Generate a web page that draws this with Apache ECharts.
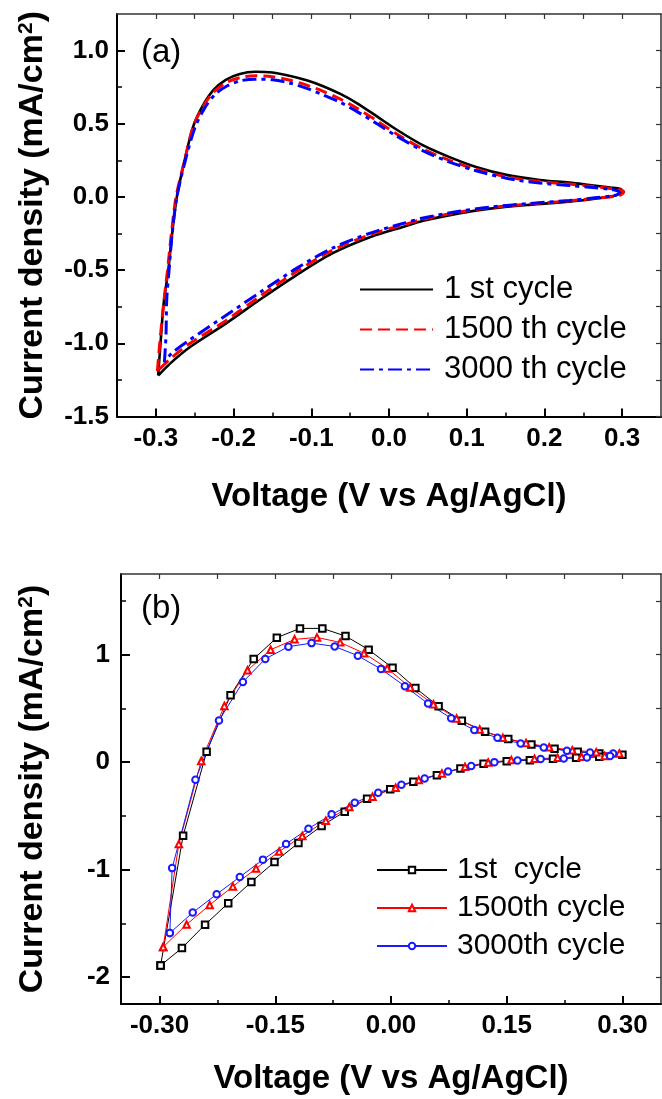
<!DOCTYPE html>
<html>
<head>
<meta charset="utf-8">
<title>Cyclic voltammetry stability</title>
<script src="https://cdn.jsdelivr.net/npm/echarts@6/dist/echarts.min.js"></script>
<style>
  html, body { margin: 0; padding: 0; background: #fff; }
  #chart { width: 662px; height: 1099px; }
</style>
</head>
<body>
<div id="chart"></div>
<script>
// ---- Panel (a): CV loops [voltage V, current density mA/cm2], anodic sweep then cathodic sweep ----
const cycleA1 = [
  [-0.297, -1.22], [-0.294, -1.00], [-0.290, -0.73], [-0.284, -0.50], [-0.279, -0.25],
  [-0.273, 0.00], [-0.263, 0.25], [-0.252, 0.48], [-0.240, 0.62], [-0.226, 0.73],
  [-0.210, 0.80], [-0.192, 0.84], [-0.172, 0.855], [-0.150, 0.850], [-0.127, 0.826],
  [-0.105, 0.795], [-0.084, 0.755], [-0.062, 0.702], [-0.041, 0.640], [-0.016, 0.552],
  [0.010, 0.459], [0.044, 0.352], [0.078, 0.272], [0.112, 0.205], [0.151, 0.151],
  [0.194, 0.116], [0.232, 0.098], [0.258, 0.082], [0.285, 0.065], [0.298, 0.055],
  [0.300, 0.040],
  [0.290, 0.008], [0.265, -0.012], [0.232, -0.032], [0.180, -0.054], [0.130, -0.080],
  [0.090, -0.112], [0.044, -0.163], [0.019, -0.203], [-0.023, -0.272], [-0.073, -0.386],
  [-0.119, -0.534], [-0.164, -0.694], [-0.210, -0.865], [-0.256, -1.025], [-0.280, -1.13],
  [-0.297, -1.22]
];
const cycleA1500 = [
  [-0.298, -1.19], [-0.295, -1.00], [-0.290, -0.73], [-0.285, -0.50], [-0.280, -0.25],
  [-0.274, 0.00], [-0.263, 0.25], [-0.252, 0.48], [-0.240, 0.61], [-0.226, 0.715],
  [-0.210, 0.78], [-0.192, 0.815], [-0.172, 0.828], [-0.150, 0.822], [-0.127, 0.797],
  [-0.105, 0.762], [-0.084, 0.720], [-0.062, 0.667], [-0.041, 0.605], [-0.016, 0.522],
  [0.010, 0.430], [0.044, 0.327], [0.078, 0.250], [0.112, 0.189], [0.151, 0.138],
  [0.194, 0.105], [0.232, 0.088], [0.258, 0.074], [0.285, 0.058], [0.298, 0.048],
  [0.302, 0.035],
  [0.295, 0.008], [0.265, -0.008], [0.232, -0.027], [0.180, -0.048], [0.130, -0.073],
  [0.090, -0.103], [0.044, -0.152], [0.019, -0.190], [-0.023, -0.255], [-0.073, -0.365],
  [-0.119, -0.510], [-0.164, -0.672], [-0.210, -0.845], [-0.256, -1.000], [-0.280, -1.10],
  [-0.298, -1.19]
];
const cycleA3000 = [
  [-0.289, -1.13], [-0.287, -0.95], [-0.286, -0.70], [-0.283, -0.50], [-0.279, -0.25],
  [-0.273, 0.00], [-0.262, 0.25], [-0.250, 0.47], [-0.238, 0.60], [-0.224, 0.70],
  [-0.208, 0.76], [-0.190, 0.795], [-0.172, 0.805], [-0.150, 0.800], [-0.127, 0.777],
  [-0.105, 0.740], [-0.084, 0.695], [-0.062, 0.644], [-0.041, 0.583], [-0.016, 0.502],
  [0.010, 0.415], [0.044, 0.315], [0.078, 0.238], [0.112, 0.179], [0.151, 0.128],
  [0.194, 0.095], [0.232, 0.078], [0.258, 0.066], [0.285, 0.052], [0.295, 0.040],
  [0.296, 0.025],
  [0.288, 0.008], [0.265, -0.006], [0.232, -0.024], [0.180, -0.045], [0.130, -0.069],
  [0.090, -0.098], [0.044, -0.144], [0.019, -0.180], [-0.023, -0.245], [-0.073, -0.350],
  [-0.119, -0.488], [-0.164, -0.645], [-0.210, -0.810], [-0.256, -0.975], [-0.280, -1.07],
  [-0.289, -1.13]
];

// ---- Panel (b): sampled CV loops with markers ----
const cycleB1 = [
  [-0.2987, -1.892], [-0.2695, -0.685], [-0.239, 0.096], [-0.208, 0.622], [-0.178, 0.960],
  [-0.148, 1.158], [-0.118, 1.244], [-0.089, 1.244], [-0.059, 1.173], [-0.029, 1.046],
  [0.002, 0.877], [0.0316, 0.690], [0.0617, 0.520], [0.0918, 0.384], [0.122, 0.282],
  [0.152, 0.214], [0.182, 0.164], [0.212, 0.124], [0.242, 0.096], [0.270, 0.081],
  [0.300, 0.068],
  [0.270, 0.050], [0.240, 0.040], [0.210, 0.031], [0.180, 0.018], [0.150, 0.009],
  [0.120, -0.016], [0.090, -0.059], [0.0595, -0.121], [0.029, -0.183], [-0.001, -0.252],
  [-0.031, -0.340], [-0.060, -0.461], [-0.090, -0.594], [-0.120, -0.752], [-0.151, -0.929],
  [-0.181, -1.114], [-0.211, -1.312], [-0.241, -1.512], [-0.271, -1.729], [-0.2987, -1.892]
];
const cycleB1500 = [
  [-0.2953, -1.720], [-0.275, -0.762], [-0.246, 0.011], [-0.216, 0.523], [-0.186, 0.854],
  [-0.156, 1.046], [-0.125, 1.142], [-0.096, 1.160], [-0.066, 1.114], [-0.035, 1.013],
  [-0.005, 0.872], [0.025, 0.694], [0.055, 0.539], [0.085, 0.406], [0.115, 0.303],
  [0.145, 0.226], [0.175, 0.179], [0.205, 0.139], [0.235, 0.111], [0.266, 0.093],
  [0.296, 0.081],
  [0.277, 0.058], [0.247, 0.050], [0.216, 0.040], [0.186, 0.031], [0.156, 0.019],
  [0.126, -0.003], [0.096, -0.044], [0.066, -0.105], [0.036, -0.167], [0.006, -0.238],
  [-0.024, -0.322], [-0.054, -0.418], [-0.0845, -0.545], [-0.115, -0.687], [-0.145, -0.832],
  [-0.175, -0.990], [-0.205, -1.157], [-0.235, -1.329], [-0.265, -1.510], [-0.2953, -1.720]
];
const cycleB3000 = [
  [-0.2867, -1.590], [-0.2837, -0.986], [-0.2535, -0.164], [-0.223, 0.387], [-0.192, 0.745],
  [-0.163, 0.960], [-0.133, 1.074], [-0.103, 1.107], [-0.073, 1.076], [-0.043, 0.990],
  [-0.013, 0.866], [0.018, 0.706], [0.048, 0.545], [0.078, 0.408], [0.108, 0.300],
  [0.138, 0.226], [0.168, 0.173], [0.198, 0.136], [0.228, 0.105], [0.258, 0.090],
  [0.288, 0.081],
  [0.284, 0.056], [0.254, 0.044], [0.224, 0.034], [0.194, 0.028], [0.164, 0.016],
  [0.134, 0.000], [0.104, -0.037], [0.074, -0.087], [0.0436, -0.152], [0.0135, -0.211],
  [-0.0166, -0.285], [-0.047, -0.378], [-0.077, -0.486], [-0.107, -0.619], [-0.136, -0.761],
  [-0.166, -0.907], [-0.196, -1.068], [-0.226, -1.229], [-0.257, -1.399], [-0.2867, -1.590]
];

// ---- Series names ----
const namesA = ['1 st cycle', '1500 th cycle', '3000 th cycle'];
const namesB = ['1st  cycle', '1500th cycle', '3000th cycle'];

// ---- Tick values ----
const xMajorA = [-0.3, -0.2, -0.1, 0.0, 0.1, 0.2, 0.3];
const xMinorA = [-0.25, -0.15, -0.05, 0.05, 0.15, 0.25];
const yMajorA = [-1.5, -1.0, -0.5, 0.0, 0.5, 1.0];
const yMinorA = [-1.25, -0.75, -0.25, 0.25, 0.75];
const xMajorB = [-0.30, -0.15, 0.00, 0.15, 0.30];
const xMinorB = [-0.225, -0.075, 0.075, 0.225];
const yMajorB = [-2, -1, 0, 1];
const yMinorB = [-1.5, -0.5, 0.5, 1.5];

const FONT = "'Liberation Sans', Arial, Helvetica, sans-serif";
const X_TITLE = 'Voltage (V vs Ag/AgCl)';
const Y_TITLE = 'Current density (mA/cm{sup|2})';

// Builds the bottom/top (or left/right) axes of one grid: labelled major ticks,
// shorter minor ticks, and the thin mirrored frame edge with inward ticks.
function makeAxes(dim, gridIndex, min, max, majors, minors, fmt, o) {
  const near = dim === 'x' ? 'bottom' : 'left';
  const far = dim === 'x' ? 'top' : 'right';
  const base = { type: 'value', gridIndex, min, max, splitLine: { show: false }, silent: true };
  const all = majors.concat(minors).sort((a, b) => a - b);
  return [
    Object.assign({}, base, {
      position: near,
      axisLine: { show: true, onZero: false, lineStyle: { color: '#000', width: 2 } },
      axisTick: { show: true, inside: true, length: o.majorLen, customValues: majors,
                  lineStyle: { color: '#000', width: 2 } },
      axisLabel: { show: true, customValues: majors, formatter: fmt, margin: o.labelMargin,
                   color: '#000', fontSize: 26, fontWeight: 'bold', fontFamily: FONT },
      name: dim === 'x' ? X_TITLE : Y_TITLE,
      nameLocation: 'middle',
      nameGap: o.nameGap,
      nameTextStyle: {
        color: '#000', fontSize: dim === 'x' ? 33 : 34, fontWeight: 'bold', fontFamily: FONT,
        rich: {
          sup: { fontSize: 21, fontWeight: 'bold', fontFamily: FONT, color: '#000',
                 verticalAlign: 'top', lineHeight: 34, padding: [0, 0, 14, 0] }
        }
      }
    }),
    Object.assign({}, base, {
      position: near,
      axisLine: { show: false, onZero: false },
      axisTick: { show: true, inside: true, length: o.minorLen, customValues: minors,
                  lineStyle: { color: '#000', width: 1.5 } },
      axisLabel: { show: false }
    }),
    Object.assign({}, base, {
      position: far,
      axisLine: { show: true, onZero: false, lineStyle: { color: '#333', width: 1.5 } },
      axisTick: { show: true, inside: true, length: 5, customValues: all,
                  lineStyle: { color: '#333', width: 1.2 } },
      axisLabel: { show: false }
    })
  ];
}

const f1 = v => v.toFixed(1);
const f2 = v => v.toFixed(2);
const f0 = v => String(Math.round(v));

const xAxes = []
  .concat(makeAxes('x', 0, -0.35, 0.35, xMajorA, xMinorA, f1, { majorLen: 8, minorLen: 4, labelMargin: 9, nameGap: 64 }))
  .concat(makeAxes('x', 1, -0.35, 0.35, xMajorB, xMinorB, f2, { majorLen: 8, minorLen: 4, labelMargin: 9, nameGap: 58 }));
const yAxes = []
  .concat(makeAxes('y', 0, -1.5, 1.25, yMajorA, yMinorA, f1, { majorLen: 8, minorLen: 5, labelMargin: 8, nameGap: 67 }))
  .concat(makeAxes('y', 1, -2.25, 1.75, yMajorB, yMinorB, f0, { majorLen: 9, minorLen: 5, labelMargin: 11, nameGap: 71 }));

function curve(name, data, color, width, dash) {
  return {
    name, type: 'line', data, xAxisIndex: 0, yAxisIndex: 0,
    symbol: 'none', smooth: 0.3, silent: true,
    lineStyle: { color, width, type: dash },
    itemStyle: { color }
  };
}
function marked(name, data, color, symbol) {
  return {
    name, type: 'line', data, xAxisIndex: 3, yAxisIndex: 3,
    symbol, symbolSize: 6.5, showSymbol: true, silent: true,
    lineStyle: { color, width: 1 },
    itemStyle: { color, borderColor: color, borderWidth: 1 }
  };
}

const option = {
  animation: false,
  backgroundColor: '#fff',
  grid: [
    { left: 117, top: 14, width: 544, height: 402.5 },
    { left: 121, top: 574, width: 540, height: 430 }
  ],
  xAxis: xAxes,
  yAxis: yAxes,
  legend: [
    {
      data: namesA, orient: 'vertical', left: 359, top: 274, padding: 0,
      itemWidth: 73, itemHeight: 14, itemGap: 9, selectedMode: false,
      itemStyle: { opacity: 0 },
      textStyle: { color: '#000', fontSize: 31, fontFamily: FONT, padding: [0, 0, 0, 6] }
    },
    {
      data: namesB, orient: 'vertical', left: 376, top: 855, padding: 0,
      itemWidth: 70, itemHeight: 8, itemGap: 8, selectedMode: false,
      textStyle: { color: '#000', fontSize: 30, fontFamily: FONT, padding: [0, 0, 0, 5] }
    }
  ],
  graphic: [
    { type: 'text', left: 141, top: 36, silent: true,
      style: { text: '(a)', fill: '#000', font: '33px ' + FONT } },
    { type: 'text', left: 141, top: 592, silent: true,
      style: { text: '(b)', fill: '#000', font: '33px ' + FONT } }
  ],
  series: [
    curve(namesA[0], cycleA1, '#000000', 2.6, 'solid'),
    curve(namesA[1], cycleA1500, '#ff0000', 3, [12, 6]),
    curve(namesA[2], cycleA3000, '#0000ff', 3, [14, 5, 4, 5]),
    marked(namesB[0], cycleB1, '#000000', 'emptyRect'),
    marked(namesB[1], cycleB1500, '#ff0000', 'emptyTriangle'),
    marked(namesB[2], cycleB3000, '#1a1aff', 'emptyCircle')
  ]
};

const chart = echarts.init(document.getElementById('chart'), null, { renderer: 'canvas' });
chart.setOption(option);
</script>
</body>
</html>
